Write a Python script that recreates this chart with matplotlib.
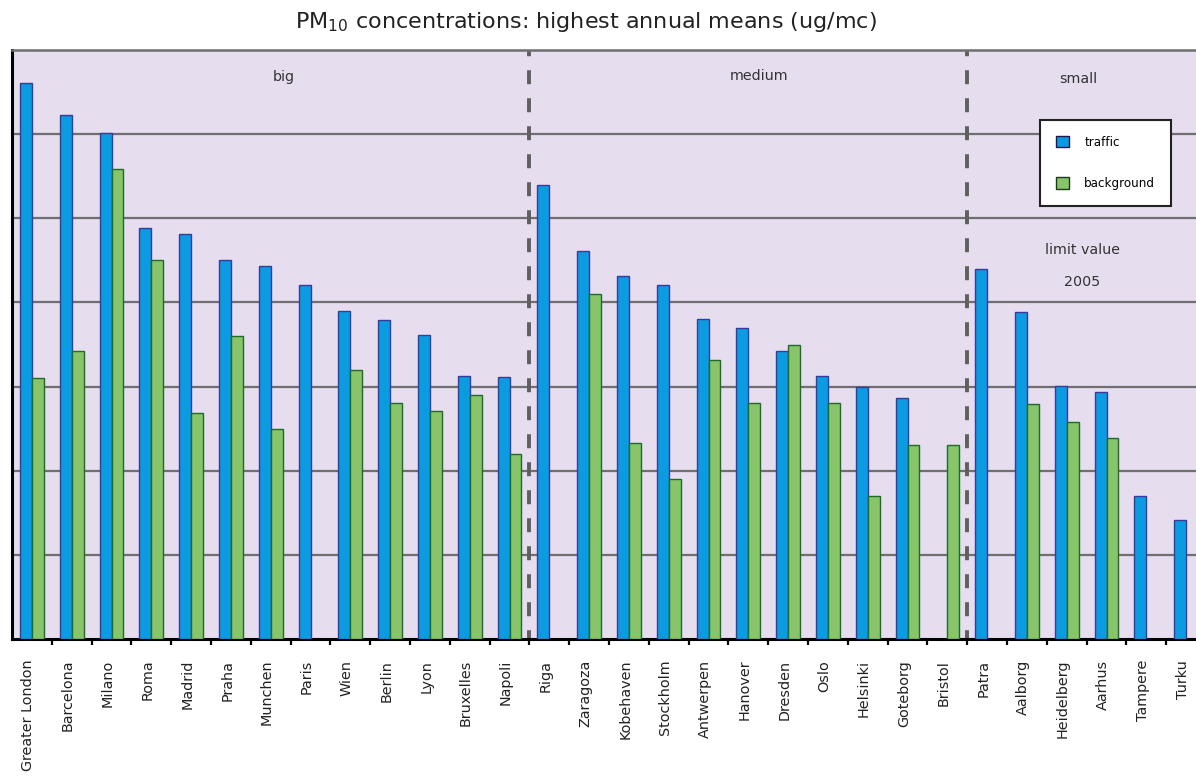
import matplotlib
matplotlib.use("Agg")
import matplotlib.pyplot as plt
from matplotlib.patches import Patch
import numpy as np

cities = ["Greater London", "Barcelona", "Milano", "Roma", "Madrid", "Praha", "Munchen",
          "Paris", "Wien", "Berlin", "Lyon", "Bruxelles", "Napoli",
          "Riga", "Zaragoza", "Kobehaven", "Stockholm", "Antwerpen", "Hanover", "Dresden",
          "Oslo", "Helsinki", "Goteborg", "Bristol",
          "Patra", "Aalborg", "Heidelberg", "Aarhus", "Tampere", "Turku"]
traffic = [66.1, 62.3, 60.1, 48.9, 48.1, 45.0, 44.3, 42.1, 39.0, 37.9, 36.1, 31.2, 31.1,
           53.9, 46.1, 43.1, 42.1, 38.0, 37.0, 34.2, 31.2, 30.0, 28.7, np.nan,
           44.0, 38.9, 30.1, 29.3, 17.0, 14.2]
background = [31.0, 34.2, 55.8, 45.1, 26.9, 36.0, 25.0, np.nan, 32.0, 28.0, 27.1, 29.0, 22.0,
              np.nan, 41.0, 23.3, 19.0, 33.1, 28.0, 34.9, 28.1, 17.0, 23.1, 23.0,
              np.nan, 27.9, 25.8, 23.9, np.nan, np.nan]
group_names = ["big", "medium", "small"]
group_sizes = [13, 11, 6]
limit_text = ["limit value", "2005"]

W, H = 1196, 780
fig = plt.figure(figsize=(W / 100, H / 100), dpi=100)
ax = fig.add_axes([12 / W, 1 - 639 / H, (1206 - 12) / W, (639 - 50) / H])
ax.set_facecolor("#e6ddef")

x = np.arange(len(cities))
bw = 0.3
ax.bar(x - bw / 2, traffic, width=bw, color="#0a9be0", edgecolor="#3a3a9a", linewidth=1.0,
       label="traffic", zorder=3)
ax.bar(x + bw / 2, background, width=bw, color="#88c46a", edgecolor="#1f6b2a", linewidth=1.0,
       label="background", zorder=3)

ax.set_ylim(0, 70)
ax.set_xlim(-0.5, len(cities) - 0.5)
for yv in range(10, 70, 10):
    ax.axhline(yv, color="#6f6f6f", linewidth=1.6, zorder=1)

# group dividers (dash pattern starting at the top)
bounds = np.cumsum(group_sizes)[:-1] - 0.5
for b in bounds:
    ax.plot([b, b], [70, 0], color="#5f5f5f", linewidth=2.8,
            linestyle=(2.0, (3.6, 3.6)), zorder=2, solid_capstyle="butt")

centers_text = [6.33, 18.27, 26.3]
text_y = [66.8, 66.9, 66.5]
txt_kw = dict(ha="center", va="center", fontsize=10.3, color="#333333")
for name, cx, ty in zip(group_names, centers_text, text_y):
    ax.text(cx, ty, name, **txt_kw)
ax.text(26.4, 46.2, limit_text[0], **txt_kw)
ax.text(26.4, 42.4, limit_text[1], **txt_kw)

# spines
for s in ["left", "bottom"]:
    ax.spines[s].set_color("black")
    ax.spines[s].set_linewidth(2.2)
ax.spines["top"].set_color("#6f6f6f")
ax.spines["top"].set_linewidth(1.8)
ax.spines["right"].set_visible(False)

ax.set_yticks([])
ax.set_xticks(x - 0.09)
ax.set_xticklabels(cities, rotation=90, fontsize=10.4, color="#222222", va="top")
ax.tick_params(axis="x", which="major", length=0, pad=15)
ax.set_xticks(np.arange(0.5, len(cities) - 0.5, 1), minor=True)
ax.tick_params(axis="x", which="minor", length=4, width=1.6, color="black", direction="out")

ax.set_title("PM$_{10}$ concentrations: highest annual means (ug/mc)", fontsize=16,
             color="#222222", pad=16, x=(586 - 12) / (1206 - 12))

handles = [Patch(facecolor="#0a9be0", edgecolor="#1a1a4a", label="traffic"),
           Patch(facecolor="#88c46a", edgecolor="#1a3a1a", label="background")]
leg = ax.legend(handles=handles, loc="upper left",
                bbox_to_anchor=((1040 - 12) / (1206 - 12), 1 - (120 - 50) / (639 - 50)),
                fontsize=8.6, frameon=True, fancybox=False, edgecolor="#222222",
                labelspacing=2.4, handlelength=1.1, handleheight=1.1, handletextpad=1.3,
                borderpad=1.3, borderaxespad=0)
leg.get_frame().set_linewidth(1.5)
leg.get_frame().set_facecolor("white")
leg.get_frame().set_alpha(1)

fig.savefig("out.png", dpi=100)
